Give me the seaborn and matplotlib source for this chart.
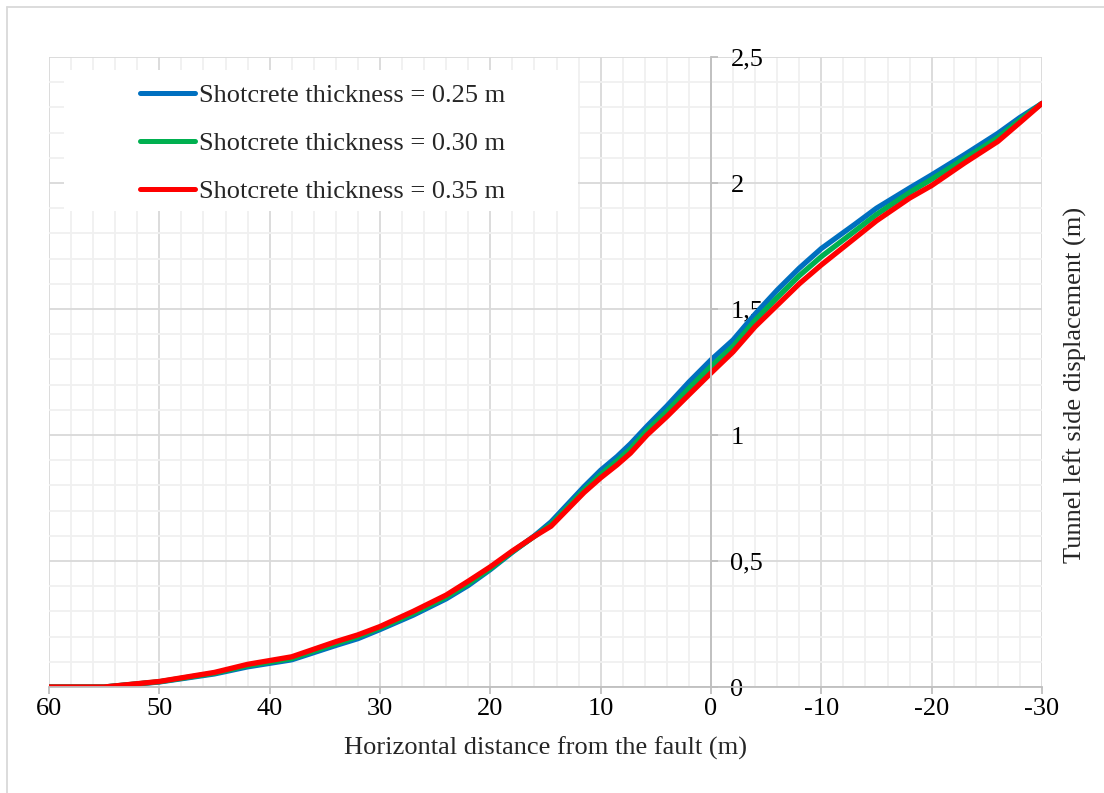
import matplotlib
matplotlib.use('Agg')
import matplotlib.pyplot as plt
import numpy as np
import pandas as pd
import seaborn as sns
from matplotlib.lines import Line2D
from matplotlib.patches import Rectangle
from matplotlib.ticker import FuncFormatter, MultipleLocator

# distance from the fault (m)
distance = [60, 55, 50, 45, 42, 38, 34, 32, 30, 27, 24, 22, 20, 18, 16, 14.5, 13, 11.5, 10, 8.5,
            7.3, 5.8, 4, 2, 0, -2, -4, -6, -8, -10, -13, -15, -18, -20, -23, -26, -28, -30]

disp_025 = [0, 0, 0.020, 0.052, 0.080, 0.108, 0.165, 0.192, 0.228, 0.285, 0.350, 0.403, 0.466, 0.535,
            0.600, 0.655, 0.725, 0.795, 0.860, 0.915, 0.965, 1.035, 1.115, 1.210, 1.298, 1.377, 1.480,
            1.575, 1.662, 1.740, 1.835, 1.900, 1.980, 2.032, 2.113, 2.197, 2.260, 2.316]
disp_030 = [0, 0, 0.021, 0.055, 0.085, 0.113, 0.172, 0.200, 0.234, 0.292, 0.357, 0.410, 0.470, 0.537,
            0.598, 0.645, 0.713, 0.782, 0.843, 0.898, 0.945, 1.018, 1.093, 1.185, 1.272, 1.352, 1.455,
            1.545, 1.632, 1.708, 1.808, 1.875, 1.962, 2.015, 2.097, 2.180, 2.250, 2.316]
disp_035 = [0, 0, 0.022, 0.058, 0.090, 0.120, 0.180, 0.207, 0.240, 0.300, 0.365, 0.420, 0.477, 0.540,
            0.598, 0.638, 0.705, 0.772, 0.830, 0.882, 0.928, 1.000, 1.073, 1.160, 1.246, 1.330, 1.430,
            1.515, 1.600, 1.675, 1.780, 1.850, 1.940, 1.990, 2.080, 2.165, 2.240, 2.316]

series_names = ['Shotcrete thickness = 0.25 m', 'Shotcrete thickness = 0.30 m',
                'Shotcrete thickness = 0.35 m']
series_colors = ['#0070C0', '#00B050', '#FF0000']

sns.set_theme(style='white')
plt.rcParams['font.family'] = ['Liberation Serif', 'DejaVu Serif']
plt.rcParams['axes.unicode_minus'] = False

df = pd.concat([
    pd.DataFrame({'distance': distance, 'disp': vals, 'series': name})
    for name, vals in zip(series_names, [disp_025, disp_030, disp_035])
])

fig = plt.figure(figsize=(11.04, 7.93), dpi=100)
ax = fig.add_axes([49 / 1104, 1 - 687 / 793, 993 / 1104, 630 / 793])

sns.lineplot(data=df, x='distance', y='disp', hue='series', hue_order=series_names,
             palette=dict(zip(series_names, series_colors)), linewidth=3.8, ax=ax, legend=False)

ax.set_xlim(60, -30)
ax.set_ylim(0, 2.5)
ax.xaxis.set_major_locator(MultipleLocator(10))
ax.xaxis.set_minor_locator(MultipleLocator(2))
ax.yaxis.set_major_locator(MultipleLocator(0.5))
ax.yaxis.set_minor_locator(MultipleLocator(0.1))
ax.yaxis.set_major_formatter(FuncFormatter(lambda v, p: f'{v:g}'.replace('.', ',')))
ax.xaxis.set_major_formatter(FuncFormatter(lambda v, p: f'{v:g}'))

ax.set_axisbelow(True)
ax.grid(which='major', color='#D9D9D9', linewidth=1.3)
ax.grid(which='minor', color='#F0F0F0', linewidth=1.3)

# y axis sits on x = 0, ticks and labels on its right
ax.yaxis.tick_right()
ax.spines['right'].set_position(('data', 0))
ax.spines['right'].set_color('#BFBFBF')
ax.spines['right'].set_linewidth(1.3)
ax.spines['left'].set_visible(False)
ax.spines['top'].set_visible(False)
ax.spines['bottom'].set_color('#BFBFBF')
ax.spines['bottom'].set_linewidth(1.3)

ax.tick_params(axis='y', which='major', direction='out', length=5, width=1.3, color='#BFBFBF',
               pad=9, labelsize=19, labelcolor='black', right=True, left=False)
ax.tick_params(axis='y', which='minor', length=0)
ax.tick_params(axis='x', which='major', direction='out', length=5, width=1.3, color='#BFBFBF',
               pad=3, labelsize=19, labelcolor='black', bottom=True)
ax.tick_params(axis='x', which='minor', length=0)

ax.set_xlabel('Horizontal distance from the fault (m)', fontsize=19, labelpad=12)
ax.yaxis.set_label_position('right')
ax.set_ylabel('Tunnel left side displacement (m)', fontsize=19)
ax.yaxis.set_label_coords(1.022, 0.479)
ax.yaxis.label.set_rotation(90)

# white legend box over the grid
ax.add_patch(Rectangle((15 / 993, (687 - 211) / 630), 514 / 993, 141 / 630, transform=ax.transAxes,
                       facecolor='white', edgecolor='none', zorder=1.5))
handles = [Line2D([], [], color=c, linewidth=3.6, solid_capstyle='round') for c in series_colors]
ax.legend(handles, series_names, loc='upper left', bbox_to_anchor=(91 / 993, 1 - 27 / 630),
          frameon=False, fontsize=19, handlelength=2.1, handletextpad=0.15, labelspacing=0.92,
          borderpad=0, borderaxespad=0)

# light frame of the original picture
fig.add_artist(Line2D([7 / 1104, 7 / 1104], [0, 1 - 7 / 793], color='#D9D9D9', linewidth=1.3))
fig.add_artist(Line2D([7 / 1104, 1], [1 - 7 / 793, 1 - 7 / 793], color='#D9D9D9', linewidth=1.3))

fig.savefig('out.png', dpi=100, facecolor='white')
